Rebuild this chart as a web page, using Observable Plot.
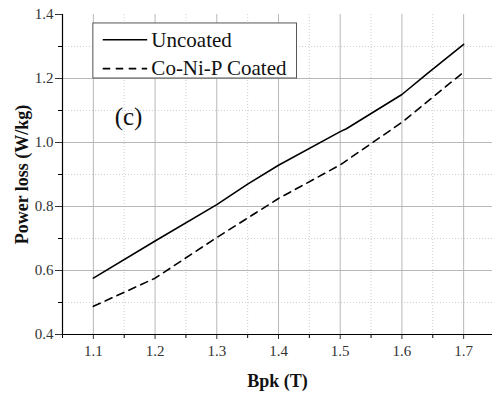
<!DOCTYPE html>
<html><head><meta charset="utf-8">
<script src="https://cdn.jsdelivr.net/npm/d3@7"></script>
<script src="https://cdn.jsdelivr.net/npm/@observablehq/plot@0.6"></script>
<style>body{margin:0;background:#fff} svg{display:block}</style>
</head><body><div id="chart"></div>
<script>
const bpkUncoated = [1.1, 1.2, 1.3, 1.35, 1.4, 1.5, 1.51, 1.6, 1.64, 1.7];
const lossUncoated = [0.576, 0.692, 0.806, 0.87, 0.929, 1.034, 1.043, 1.15, 1.214, 1.307];
const bpkCoated = [1.1, 1.2, 1.3, 1.4, 1.5, 1.6, 1.7];
const lossCoated = [0.488, 0.576, 0.703, 0.825, 0.93, 1.063, 1.22];
const seriesNames = ["Uncoated", "Co-Ni-P Coated"];
const xMajor = [1.1, 1.2, 1.3, 1.4, 1.5, 1.6, 1.7];
const xMinor = [1.05, 1.15, 1.25, 1.35, 1.45, 1.55, 1.65, 1.75];
const yMajor = [0.4, 0.6, 0.8, 1.0, 1.2, 1.4];
const yMinor = [0.5, 0.7, 0.9, 1.1, 1.3];
const xLabel = "Bpk (T)";
const yLabel = "Power loss (W/kg)";
const panelLabel = "(c)";

const uncoated = bpkUncoated.map((b, i) => ({bpk: b, loss: lossUncoated[i]}));
const coated = bpkCoated.map((b, i) => ({bpk: b, loss: lossCoated[i]}));

const serif = "Liberation Serif";
const dash = "7.5,5.5";

const chart = Plot.plot({
  width: 492,
  height: 396,
  marginLeft: 62, marginRight: 0, marginTop: 14, marginBottom: 62,
  style: {fontFamily: serif, background: "white", overflow: "hidden"},
  x: {domain: [1.05, 1.75], range: [62, 494]},
  y: {domain: [0.4, 1.4], range: [334, 14]},
  marks: [
    Plot.gridX(xMinor.slice(1, -1), {stroke: "#cfcfcf", strokeOpacity: 1, strokeDasharray: "1,2"}),
    Plot.gridY(yMinor, {stroke: "#cfcfcf", strokeOpacity: 1, strokeDasharray: "1,2"}),
    Plot.gridX(xMajor, {stroke: "#b8b8b8", strokeOpacity: 1}),
    Plot.gridY(yMajor.slice(1, -1), {stroke: "#b8b8b8", strokeOpacity: 1}),
    Plot.line(uncoated, {x: "bpk", y: "loss", stroke: "black", strokeWidth: 1.6}),
    Plot.line(coated, {x: "bpk", y: "loss", stroke: "black", strokeWidth: 1.6, strokeDasharray: dash}),
    Plot.axisX(xMajor, {tickSize: 5, tickPadding: 6, tickFormat: d3.format(".1f"), fontSize: 15, fontFamily: serif, color: "#333", label: null}),
    Plot.axisX(xMinor, {tickSize: 4, tickFormat: () => "", label: null}),
    Plot.axisY(yMajor, {tickSize: 7, tickPadding: 2, tickFormat: d3.format(".1f"), fontSize: 15, fontFamily: serif, color: "#333", label: null}),
    Plot.axisY(yMinor, {tickSize: 4, tickFormat: () => "", label: null}),
    Plot.ruleX([1.05], {stroke: "black", strokeWidth: 1.2}),
    Plot.ruleY([0.4], {stroke: "black", strokeWidth: 1.2}),
    // legend
    Plot.rect([0], {x1: 1.1, x2: 1.43, y1: 1.2, y2: 1.372, fill: "white", stroke: "#555", strokeWidth: 1}),
    Plot.ruleY([1.321], {x1: 1.116, x2: 1.188, stroke: "black", strokeWidth: 1.6}),
    Plot.ruleY([1.231], {x1: 1.116, x2: 1.188, stroke: "black", strokeWidth: 1.6, strokeDasharray: dash}),
    Plot.text([seriesNames[0]], {x: 1.194, y: 1.321, text: d => d, textAnchor: "start", fontSize: 21, fontFamily: serif, fill: "#111"}),
    Plot.text([seriesNames[1]], {x: 1.194, y: 1.231, text: d => d, textAnchor: "start", fontSize: 21, fontFamily: serif, fill: "#111"}),
    Plot.text([panelLabel], {x: 1.157, y: 1.08, text: d => d, fontSize: 25, fontFamily: serif, fill: "#111"}),
    // axis titles
    Plot.text([xLabel], {frameAnchor: "bottom", dy: 47, lineAnchor: "middle", textAnchor: "middle", text: d => d, fontSize: 18, fontWeight: "bold", fontFamily: serif, fill: "#111"}),
    Plot.text([yLabel], {frameAnchor: "left", dx: -40, rotate: -90, textAnchor: "middle", lineAnchor: "middle", text: d => d, fontSize: 18, fontWeight: "bold", fontFamily: serif, fill: "#111"})
  ]
});
document.getElementById("chart").append(chart);
</script>
</body></html>
